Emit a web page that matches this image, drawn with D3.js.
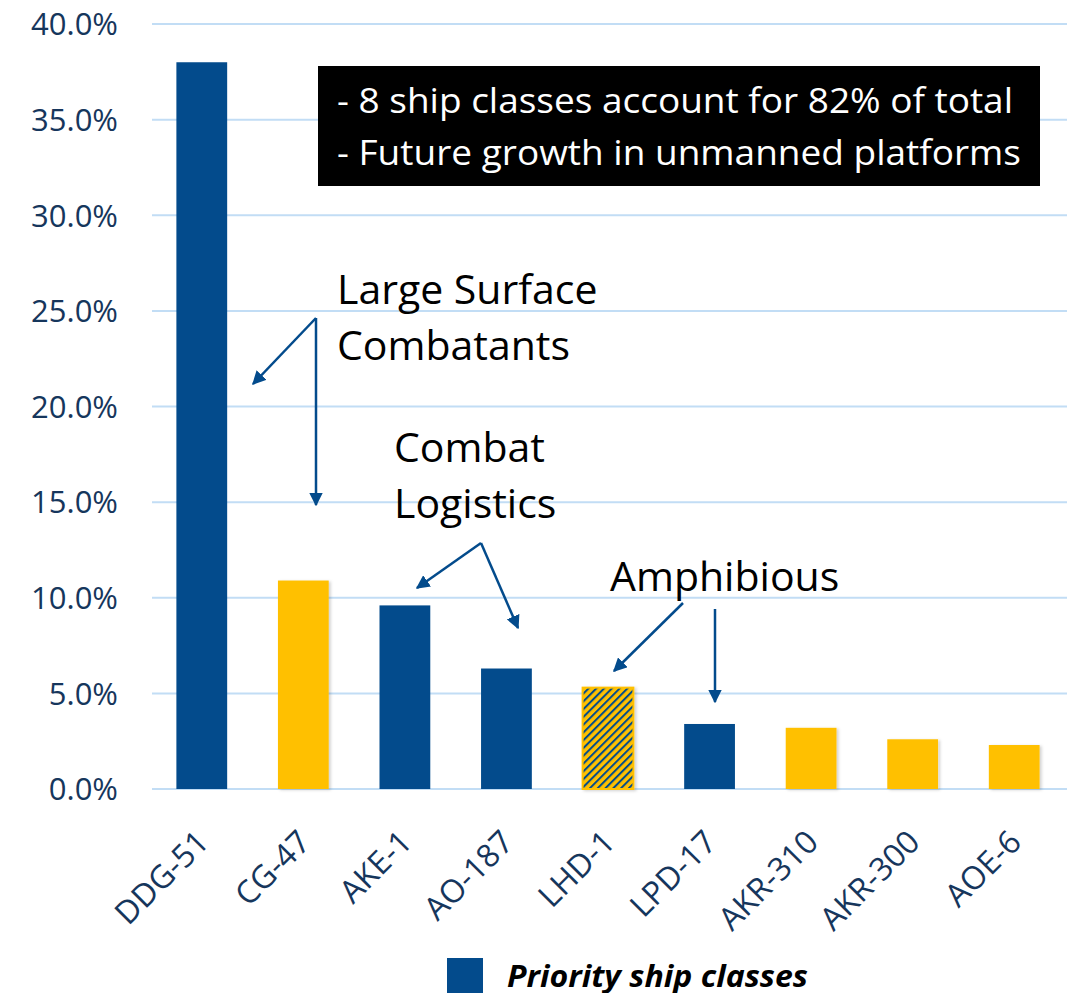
<!DOCTYPE html>
<html>
<head>
<meta charset="utf-8">
<script src="https://cdn.jsdelivr.net/npm/d3@7"></script>
<style>
  body { margin: 0; background: #fff; }
  svg { display: block; font-family: "Open Sans", sans-serif; }
</style>
</head>
<body>
<svg id="chart" width="1076" height="993"></svg>
<script>
//----------chart data---------
const shipClasses = ["DDG-51", "CG-47", "AKE-1", "AO-187", "LHD-1", "LPD-17", "AKR-310", "AKR-300", "AOE-6"];
const shareOfTotal = [38.0, 10.9, 9.6, 6.3, 5.3, 3.4, 3.2, 2.6, 2.3];
// "p" = priority ship class, "o" = other, "mix" = partly priority
const classKind = ["p", "o", "p", "p", "mix", "p", "o", "o", "o"];
const yTicks = [0, 5, 10, 15, 20, 25, 30, 35, 40];

const boxLines = ["- 8 ship classes account for 82% of total", "- Future growth in unmanned platforms"];
const legendLabel = "Priority ship classes";

const blue = "#034b8c";
const yellow = "#ffc000";
const navy = "#16365c";

//----------setup---------
const svg = d3.select("#chart");

const x = d3.scaleBand()
  .domain(shipClasses)
  .range([151, 1065])
  .paddingInner(0.5)
  .paddingOuter(0.25);

const y = d3.scaleLinear()
  .domain([0, 40])
  .range([789, 24]);

let defs = svg.append("defs");

// diagonal stripes for the mixed bar
defs.append("pattern")
  .attr("id", "hatch")
  .attr("patternUnits", "userSpaceOnUse")
  .attr("width", 5.5)
  .attr("height", 5.5)
  .attr("patternTransform", "rotate(45)")
  .call(p => {
    p.append("rect").attr("width", 5.5).attr("height", 5.5).attr("fill", yellow);
    p.append("rect").attr("width", 2).attr("height", 5.5).attr("fill", blue);
  });

// soft shadow under the bars
let shadow = defs.append("filter")
  .attr("id", "shadow")
  .attr("x", "-20%").attr("y", "-10%")
  .attr("width", "150%").attr("height", "130%");
shadow.append("feDropShadow")
  .attr("dx", 2).attr("dy", 1)
  .attr("stdDeviation", 1.5)
  .attr("flood-color", "#000")
  .attr("flood-opacity", 0.18);

defs.append("marker")
  .attr("id", "arrow")
  .attr("viewBox", "0 0 10 10")
  .attr("refX", 9).attr("refY", 5)
  .attr("markerWidth", 5.5).attr("markerHeight", 5.5)
  .attr("markerUnits", "strokeWidth")
  .attr("orient", "auto")
  .append("path")
  .attr("d", "M0,0 L10,5 L0,10 z")
  .attr("fill", blue);

//----------gridlines + y axis---------
const yAxis = d3.axisLeft(y)
  .tickValues(yTicks)
  .tickSize(0)
  .tickPadding(0)
  .tickFormat(d => d3.format(".1f")(d) + "%");

svg.append("g")
  .attr("class", "grid")
  .selectAll("line")
  .data(yTicks)
  .join("line")
  .attr("x1", 152)
  .attr("x2", 1067)
  .attr("y1", d => y(d))
  .attr("y2", d => y(d))
  .attr("stroke", "#c2ddf5")
  .attr("stroke-width", 2);

let yG = svg.append("g")
  .attr("transform", "translate(118,0)")
  .call(yAxis);
yG.select(".domain").remove();
yG.selectAll("text")
  .attr("fill", navy)
  .attr("font-size", 31)
  .attr("dy", "0.35em")
  .style("font-family", "Open Sans");

//----------bars---------
svg.append("g")
  .selectAll("rect")
  .data(shipClasses)
  .join("rect")
  .attr("x", d => x(d))
  .attr("y", (d, i) => y(shareOfTotal[i]))
  .attr("width", x.bandwidth())
  .attr("height", (d, i) => y(0) - y(shareOfTotal[i]))
  .attr("fill", (d, i) => classKind[i] == "p" ? blue : (classKind[i] == "o" ? yellow : "url(#hatch)"))
  .attr("stroke", (d, i) => classKind[i] == "mix" ? yellow : "none")
  .attr("stroke-width", 2)
  .attr("filter", (d, i) => classKind[i] == "p" ? null : "url(#shadow)");

//----------x labels---------
const xAxis = d3.axisBottom(x).tickSize(0).tickPadding(0);
let xG = svg.append("g")
  .attr("transform", "translate(0,844)")
  .call(xAxis);
xG.select(".domain").remove();
xG.selectAll("text")
  .attr("fill", navy)
  .attr("font-size", 32)
  .style("font-family", "Open Sans")
  .attr("text-anchor", "end")
  .attr("dy", 0)
  .attr("y", 0)
  .attr("transform", "translate(9,0) rotate(-45)");

//----------annotations---------
// summary box
svg.append("rect")
  .attr("x", 318).attr("y", 66)
  .attr("width", 722).attr("height", 120)
  .attr("fill", "#000");

svg.append("g")
  .selectAll("text")
  .data(boxLines)
  .join("text")
  .attr("x", 337)
  .attr("y", (d, i) => 113 + i * 52)
  .attr("fill", "#fff")
  .attr("font-size", 35)
  .attr("textLength", (d, i) => i == 0 ? 676 : 684)
  .attr("lengthAdjust", "spacingAndGlyphs")
  .text(d => d);

// group labels
const groupLabels = [
  {lines: ["Large Surface", "Combatants"], x: 337, y: 304},
  {lines: ["Combat", "Logistics"], x: 394, y: 462},
  {lines: ["Amphibious"], x: 610, y: 591}
];
groupLabels.forEach(g => {
  svg.append("text")
    .attr("x", g.x)
    .attr("y", g.y)
    .attr("font-size", 41)
    .attr("fill", "#000")
    .selectAll("tspan")
    .data(g.lines)
    .join("tspan")
    .attr("x", g.x)
    .attr("dy", (d, i) => i == 0 ? 0 : 56)
    .text(d => d);
});

// arrows from the labels down to the bars
const arrows = [
  [316, 318, 253, 384],
  [316, 318, 316, 505],
  [481, 543, 417, 588],
  [481, 543, 518, 628],
  [683, 603, 614, 671],
  [715, 609, 715, 702]
];
svg.append("g")
  .selectAll("line")
  .data(arrows)
  .join("line")
  .attr("x1", d => d[0]).attr("y1", d => d[1])
  .attr("x2", d => d[2]).attr("y2", d => d[3])
  .attr("stroke", blue)
  .attr("stroke-width", 2.5)
  .attr("marker-end", "url(#arrow)");

//----------legend---------
svg.append("rect")
  .attr("x", 447).attr("y", 958)
  .attr("width", 36).attr("height", 40)
  .attr("fill", blue);

svg.append("text")
  .attr("x", 507).attr("y", 987)
  .attr("font-size", 30)
  .attr("font-weight", "bold")
  .attr("font-style", "italic")
  .attr("textLength", 301)
  .attr("lengthAdjust", "spacingAndGlyphs")
  .text(legendLabel);
</script>
</body>
</html>
